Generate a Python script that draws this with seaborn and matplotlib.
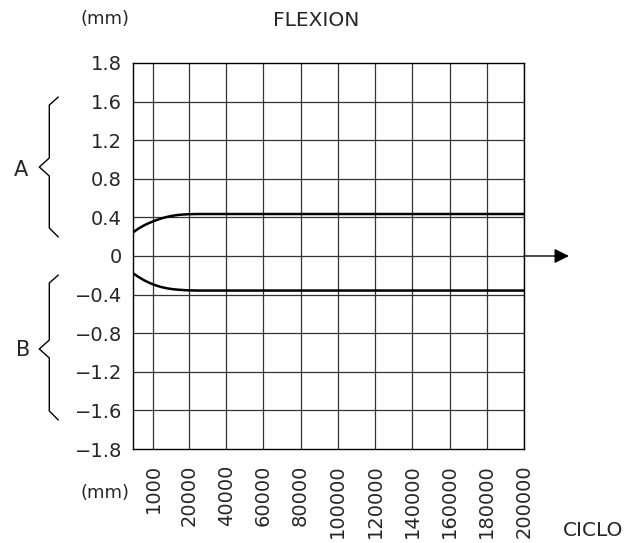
import numpy as np
import pandas as pd
import seaborn as sns
import matplotlib.pyplot as plt

# cycle axis
x_ticks = [1000, 20000, 40000, 60000, 80000, 100000, 120000, 140000, 160000, 180000, 200000]
x_labels = ['1000', '20000', '40000', '60000', '80000', '100000', '120000',
            '140000', '160000', '180000', '200000']

# y axis: tick spacing is uniform, outer ticks read 1.8 / -1.8
y_ticks = [2.0, 1.6, 1.2, 0.8, 0.4, 0, -0.4, -0.8, -1.2, -1.6, -2.0]
y_labels = ['1.8', '1.6', '1.2', '0.8', '0.4', '0', '\u22120.4', '\u22120.8',
            '\u22121.2', '\u22121.6', '\u22121.8']

# deflection curves (mm)
cyc = [-10000, -7000, -4000, -1000, 2000, 5000, 8000, 11000, 14000, 17000, 20000, 25000, 30000, 200000]
upper = [0.245, 0.285, 0.318, 0.345, 0.368, 0.388, 0.404, 0.416, 0.425, 0.430, 0.433, 0.435, 0.435, 0.435]
lower = [-0.179, -0.218, -0.252, -0.280, -0.303, -0.321, -0.334, -0.343, -0.349, -0.353, -0.356, -0.358, -0.358, -0.358]

df = pd.DataFrame({'ciclo': cyc * 2, 'mm': upper + lower,
                   'serie': ['A'] * len(cyc) + ['B'] * len(cyc)})

sns.set_style('white')
plt.rcParams['font.family'] = ['DejaVu Sans']

fig = plt.figure(figsize=(6.28, 5.43), dpi=100)
ax = fig.add_axes([0.2118, 0.1731, 0.6226, 0.7109])

for v in x_ticks:
    ax.axvline(v, color='#333333', lw=0.9, zorder=1)
for v in y_ticks[1:-1]:
    ax.axhline(v, color='#333333', lw=0.9, zorder=1)

sns.lineplot(data=df, x='ciclo', y='mm', units='serie', estimator=None,
             color='black', lw=1.8, ax=ax, zorder=3)

ax.set_xlim(-10000, 200000)
ax.set_ylim(-2.0, 2.0)
ax.set_xticks(x_ticks)
ax.set_xticklabels(x_labels, rotation=90, fontsize=14)
ax.set_yticks(y_ticks)
ax.set_yticklabels(y_labels, fontsize=14)
ax.tick_params(axis='x', length=0, pad=11)
ax.tick_params(axis='y', length=0, pad=8)
ax.set_xlabel('')
ax.set_ylabel('')
for s in ax.spines.values():
    s.set_color('black')
    s.set_linewidth(1.0)

# arrow on zero line
ax.annotate('', xy=(1.115, 0.5), xytext=(1.0, 0.5), xycoords='axes fraction',
            arrowprops=dict(arrowstyle='-|>', color='black', lw=1.0,
                            mutation_scale=22, shrinkA=0, shrinkB=0))

# braces A and B (figure pixel coords)
def brace(y_top, y_mid, y_bot):
    W, H = 628, 543
    xs = [58.3, 49.3, 49.3, 39.3, 49.3, 49.3, 58.3]
    ys = [y_top - 8, y_top, y_mid - 9, y_mid, y_mid + 9, y_bot, y_bot + 9]
    fig.add_artist(plt.Line2D([x / W for x in xs], [1 - y / H for y in ys],
                              color='black', lw=1.0))

brace(105, 167, 228)
brace(283, 349, 411)
fig.text(14 / 628, 1 - 170 / 543, 'A', fontsize=15, va='center')
fig.text(16 / 628, 1 - 350 / 543, 'B', fontsize=15, va='center')

fig.text(105 / 628, 1 - 19 / 543, '(mm)', fontsize=13, ha='center', va='center')
fig.text(316 / 628, 1 - 20 / 543, 'FLEXION', fontsize=14.5, ha='center', va='center')
fig.text(105 / 628, 1 - 493 / 543, '(mm)', fontsize=13, ha='center', va='center')
fig.text(593 / 628, 1 - 530 / 543, 'CICLO', fontsize=14.5, ha='center', va='center')

fig.savefig('out.png', dpi=100)
